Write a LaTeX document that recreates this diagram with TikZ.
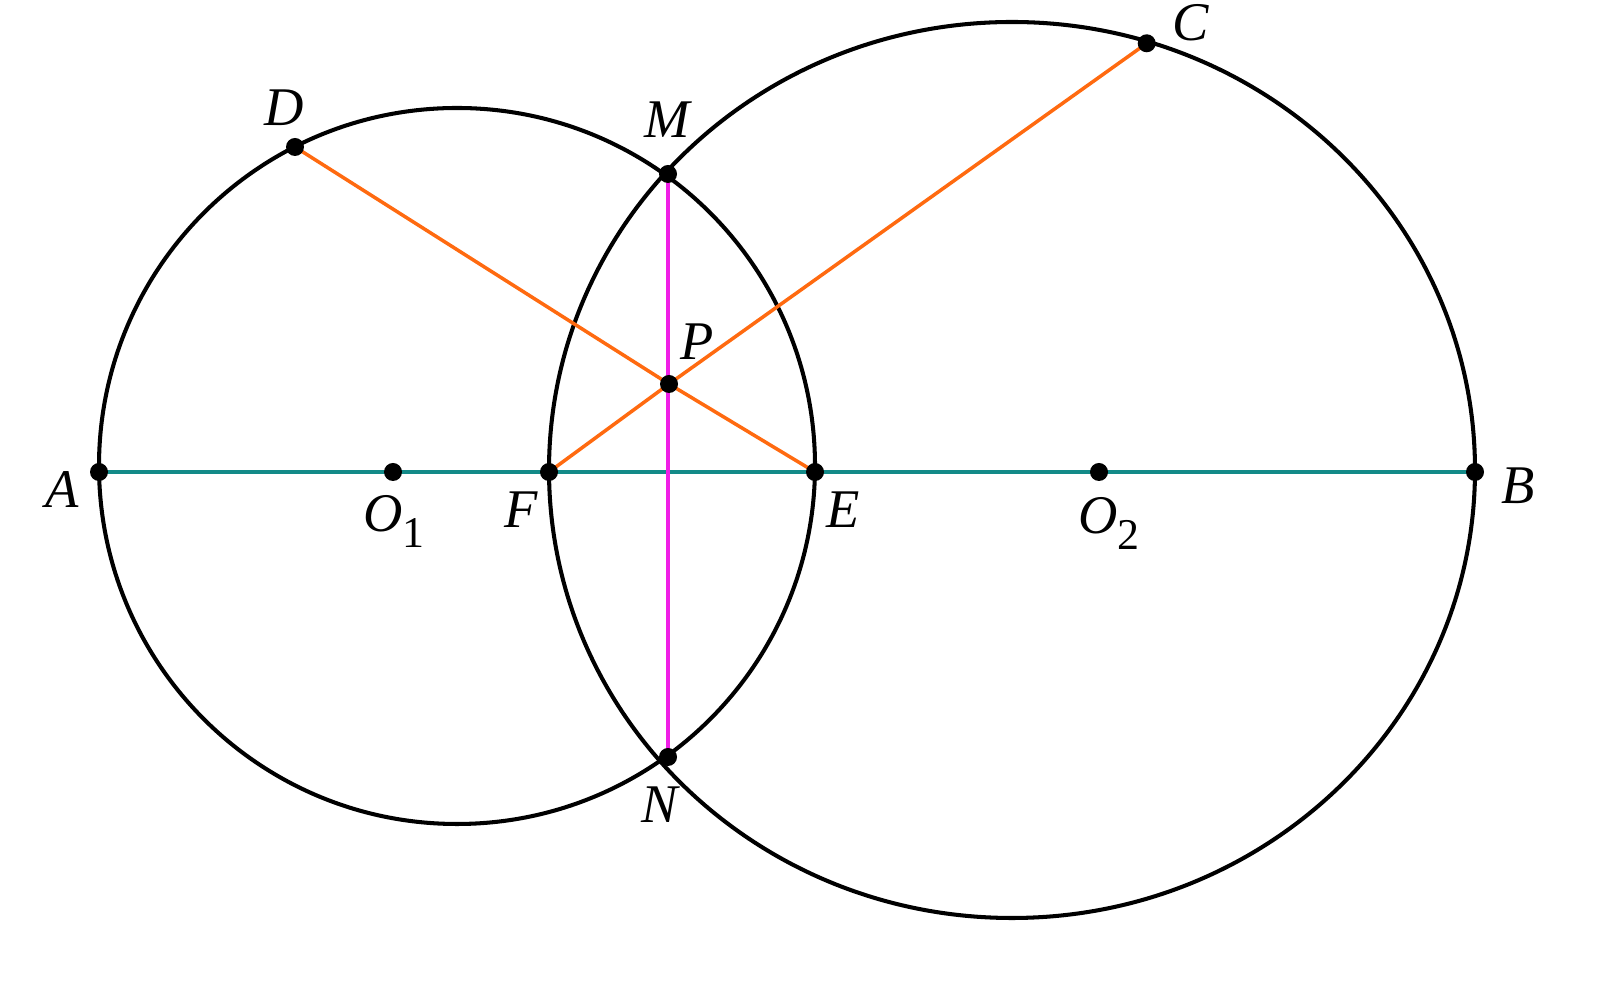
\documentclass[tikz,border=0pt]{standalone}
\usepackage{fontspec}
\setmainfont{Liberation Serif}
\definecolor{axisteal}{HTML}{138A88}
\definecolor{chordorange}{HTML}{FF6A10}
\definecolor{axismagenta}{HTML}{F01EE6}
\newcommand{\lowidx}[1]{\raisebox{-0.28em}{\upshape\fontsize{12.5}{12}\selectfont #1}}
\begin{document}
\begin{tikzpicture}[
        lbl/.style={font=\fontsize{15.5}{18}\selectfont\itshape, inner sep=0pt},
        curve/.style={line width=1.15pt, black}]
	        \useasboundingbox (0,0) rectangle (16.02,9.82);
	        % points
	        \coordinate (A) at (0.99,5.10);
	        \coordinate (O1) at (3.93,5.10);
	        \coordinate (F) at (5.49,5.10);
	        \coordinate (E) at (8.15,5.10);
	        \coordinate (O2) at (10.99,5.10);
	        \coordinate (B) at (14.75,5.10);
	        \coordinate (M) at (6.68,8.08);
	        \coordinate (N) at (6.68,2.25);
	        \coordinate (P) at (6.69,5.98);
	        \coordinate (D) at (2.95,8.35);
	        \coordinate (C) at (11.467,9.387);
	        % circles
	        \draw[curve] (4.57,5.16) circle (3.58);
	        \draw[curve] (10.12,5.12) ellipse (4.63 and 4.48);
	        % segments
	        \draw[axisteal, line width=0.9pt] (A) -- (B);
	        \draw[chordorange, line width=1pt] (D) -- (P) -- (E);
	        \draw[chordorange, line width=1pt] (C) -- (P) -- (F);
	        \draw[axismagenta, line width=0.9pt] (M) -- (N);
	        \foreach \p in {A,O1,F,E,O2,B,M,N,P,D,C}
	            \fill (\p) circle (0.09);
	        % labels
	        \node[lbl] (lA) at (0.62,4.92) {A};
	        \node[lbl, anchor=north] (lO1) at (3.94,4.87) {O\lowidx{1}};
	        \node[lbl] (lF) at (5.21,4.72) {F};
	        \node[lbl] (lE) at (8.43,4.72) {E};
	        \node[lbl, anchor=north] (lO2) at (11.09,4.85) {O\lowidx{2}};
	        \node[lbl] (lB) at (15.18,4.96) {B};
	        \node[lbl] (lM) at (6.67,8.62) {M};
	        \node[lbl] (lN) at (6.60,1.77) {N};
	        \node[lbl] (lP) at (6.97,6.40) {P};
	        \node[lbl] (lD) at (2.84,8.74) {D};
	        \node[lbl] (lC) at (11.91,9.59) {C};
\end{tikzpicture}
\end{document}
